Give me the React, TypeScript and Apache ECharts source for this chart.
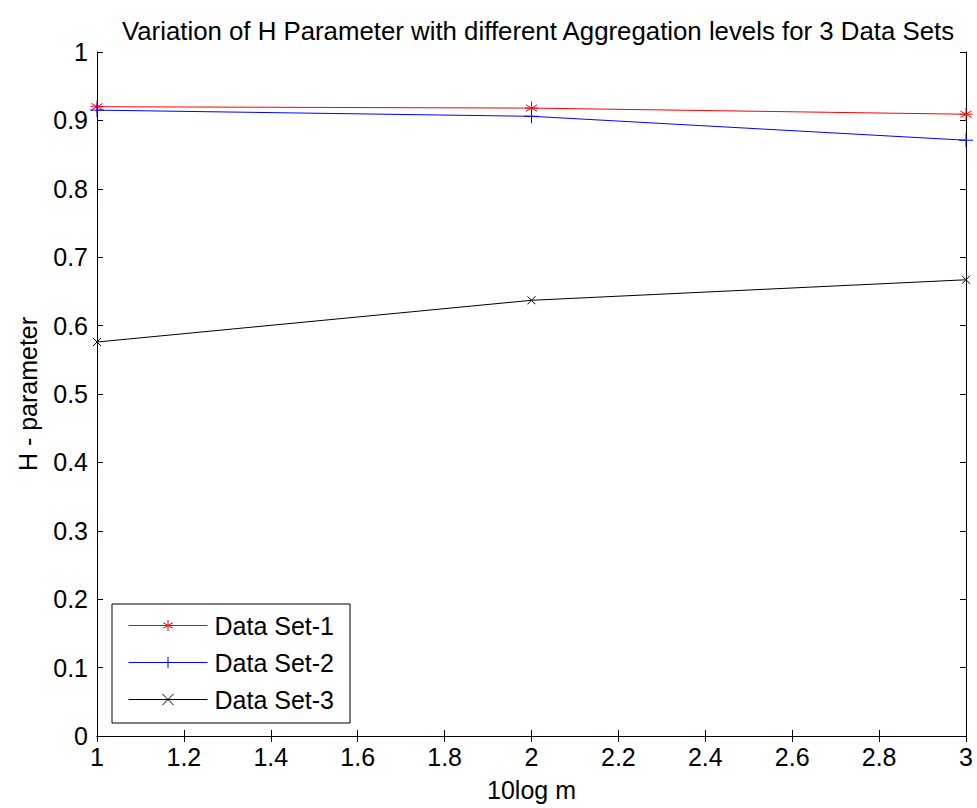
import React, { useEffect, useRef } from "react";
import * as echarts from "echarts";

const xValues = [1, 2, 3];
const set1 = [0.92, 0.918, 0.909];
const set2 = [0.915, 0.906, 0.871];
const set3 = [0.576, 0.637, 0.667];
const seriesNames = ["Data Set-1", "Data Set-2", "Data Set-3"];
const titleText = "Variation of H Parameter with different Aggregation levels for 3 Data Sets";

const FONT = "Liberation Sans, Arial, sans-serif";
const FS = 25;

const STAR = "path://M0,-1L0,1M-0.866,-0.5L0.866,0.5M-0.866,0.5L0.866,-0.5M-1,0L1,0";
const PLUS = "path://M0,-1L0,1M-1,0L1,0";
const CROSS = "path://M-1,-1L1,1M-1,1L1,-1";

const fmt = (v: number) => String(parseFloat(v.toFixed(2)));

export default function App() {
  const ref = useRef<HTMLDivElement>(null);
  useEffect(() => {
    if (!ref.current) return;
    const chart = echarts.init(ref.current, undefined, { renderer: "svg" });
    const mk = (name: string, data: number[], color: string, symbol: string, size: number) => ({
      name,
      type: "line",
      data: xValues.map((x, i) => [x, data[i]]),
      symbol,
      symbolSize: size,
      showAllSymbol: true,
      lineStyle: { color, width: 1 },
      itemStyle: { color: "transparent", borderColor: color, borderWidth: 1 },
      emphasis: { disabled: true },
      clip: false,
      z: 3,
    });
    const axisLine = { show: true, lineStyle: { color: "#000", width: 1 } };
    const axisTick = { show: true, inside: true, length: 6, lineStyle: { color: "#000" } };
    chart.setOption({
      animation: false,
      backgroundColor: "#fff",
      textStyle: { fontFamily: FONT },
      title: {
        text: titleText,
        left: 533,
        textAlign: "center",
        top: 13,
        textStyle: { fontFamily: FONT, fontSize: 25.8, fontWeight: "normal", color: "#000" },
      },
      grid: { left: 97, top: 52, right: 11, bottom: 72, containLabel: false },
      xAxis: [
        {
          type: "value",
          min: 1,
          max: 3,
          interval: 0.2,
          position: "bottom",
          axisLine,
          axisTick,
          splitLine: { show: false },
          axisLabel: { color: "#000", fontSize: FS, fontFamily: FONT, margin: 8, formatter: fmt },
          name: "10log m",
          nameLocation: "middle",
          nameGap: 41,
          nameTextStyle: { color: "#000", fontSize: FS, fontFamily: FONT },
        },
        {
          type: "value",
          min: 1,
          max: 3,
          interval: 0.2,
          position: "top",
          axisLine,
          axisTick,
          splitLine: { show: false },
          axisLabel: { show: false },
        },
      ],
      yAxis: [
        {
          type: "value",
          min: 0,
          max: 1,
          interval: 0.1,
          position: "left",
          axisLine,
          axisTick,
          splitLine: { show: false },
          axisLabel: { color: "#000", fontSize: FS, fontFamily: FONT, margin: 9, formatter: fmt },
          name: "H - parameter",
          nameLocation: "middle",
          nameGap: 57,
          nameTextStyle: { color: "#000", fontSize: FS, fontFamily: FONT },
        },
        {
          type: "value",
          min: 0,
          max: 1,
          interval: 0.1,
          position: "right",
          axisLine,
          axisTick,
          splitLine: { show: false },
          axisLabel: { show: false },
        },
      ],
      legend: {
        orient: "vertical",
        left: 112,
        top: 604,
        width: 240,
        padding: [9, 16, 11, 16],
        itemGap: 12,
        itemWidth: 79,
        itemHeight: 14,
        lineStyle: { width: 1 },
        itemStyle: { borderWidth: 1 },
        borderColor: "#000",
        borderWidth: 1,
        backgroundColor: "#fff",
        selectedMode: false,
        textStyle: { color: "#000", fontSize: FS, lineHeight: 25, fontFamily: FONT, padding: [0, 0, 0, 2] },
        data: seriesNames,
      },
      series: [
        mk(seriesNames[0], set1, "#ff0000", STAR, 13),
        mk(seriesNames[1], set2, "#0000ff", PLUS, 14),
        mk(seriesNames[2], set3, "#000000", CROSS, 8),
      ],
    });
    return () => chart.dispose();
  }, []);
  return (
    <div
      ref={ref}
      style={{ position: "fixed", left: 0, top: 0, width: 977, height: 808, background: "#fff" }}
    />
  );
}
